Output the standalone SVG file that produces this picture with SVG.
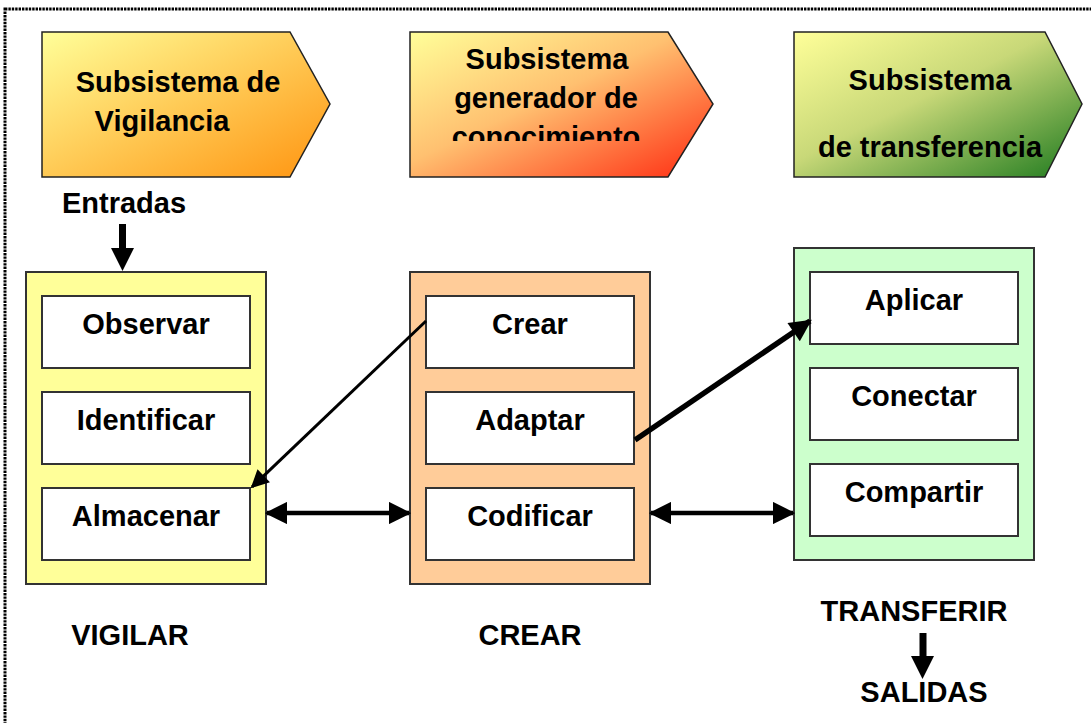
<svg xmlns="http://www.w3.org/2000/svg" width="1091" height="723" viewBox="0 0 1091 723">
  <style>
    text { font-family: "Liberation Sans", Arial, sans-serif; font-weight: bold; fill: #000; text-anchor: middle; }
    .t { font-size: 29px; }
    .col { stroke: #333; stroke-width: 2; }
    .box { fill: #fff; stroke: #333; stroke-width: 2; }
    .head { stroke: #222; stroke-width: 1.5; }
    .conn { stroke: #000; fill: none; }
  </style>
  <defs>
    <linearGradient id="gOrange" x1="0" y1="0" x2="1" y2="1">
      <stop offset="0" stop-color="#FFFF99"/>
      <stop offset="1" stop-color="#FF9410"/>
    </linearGradient>
    <linearGradient id="gRed" x1="0" y1="0" x2="1" y2="1">
      <stop offset="0" stop-color="#FFFF99"/>
      <stop offset="0.45" stop-color="#FFC070"/>
      <stop offset="1" stop-color="#FF2A10"/>
    </linearGradient>
    <linearGradient id="gGreen" x1="0" y1="0" x2="1" y2="1">
      <stop offset="0" stop-color="#FFFF99"/>
      <stop offset="0.45" stop-color="#C8D878"/>
      <stop offset="1" stop-color="#1E7A1E"/>
    </linearGradient>
    <marker id="ah" viewBox="0 0 10 10" refX="9" refY="5" markerWidth="5" markerHeight="5" orient="auto-start-reverse" markerUnits="strokeWidth">
      <path d="M0,0 L10,5 L0,10 Z" fill="#000"/>
    </marker>
    <marker id="ahThin" viewBox="0 0 10 10" refX="9" refY="5" markerWidth="7" markerHeight="6" orient="auto" markerUnits="strokeWidth">
      <path d="M0,0 L10,5 L0,10 Z" fill="#000"/>
    </marker>
    <marker id="ahMid" viewBox="0 0 10 10" refX="9" refY="5" markerWidth="4.5" markerHeight="4" orient="auto" markerUnits="strokeWidth">
      <path d="M0,0 L10,5 L0,10 Z" fill="#000"/>
    </marker>
    <clipPath id="clipGen">
      <rect x="410" y="32" width="300" height="109"/>
    </clipPath>
  </defs>

  <!-- dotted frame -->
  <rect x="5" y="9" width="1100" height="730" fill="none" stroke="#000" stroke-width="3" stroke-dasharray="2.4 1"/>

  <!-- header chevrons -->
  <g id="hdr-vigilancia">
    <polygon class="head" points="42,32 290,32 330,104 290,177 42,177" fill="url(#gOrange)"/>
    <text class="t" x="178" y="92">Subsistema de</text>
    <text class="t" x="162" y="131">Vigilancia</text>
  </g>
  <g id="hdr-generador">
    <polygon class="head" points="410,32 668,32 713,104 668,177 410,177" fill="url(#gRed)"/>
    <text class="t" x="547" y="69">Subsistema</text>
    <text class="t" x="546" y="108">generador de</text>
    <text class="t" x="546" y="147" clip-path="url(#clipGen)">conocimiento</text>
  </g>
  <g id="hdr-transferencia">
    <polygon class="head" points="794,32 1045,32 1082,104 1045,177 794,177" fill="url(#gGreen)"/>
    <text class="t" x="930" y="90">Subsistema</text>
    <text class="t" x="930" y="157">de transferencia</text>
  </g>

  <!-- column: VIGILAR -->
  <g id="col-vigilar">
    <rect class="col" x="26" y="272" width="240" height="312" fill="#FFFF99"/>
    <rect class="box" x="42" y="296" width="208" height="72"/>
    <rect class="box" x="42" y="392" width="208" height="72"/>
    <rect class="box" x="42" y="488" width="208" height="72"/>
    <text class="t" x="146" y="334">Observar</text>
    <text class="t" x="146" y="430">Identificar</text>
    <text class="t" x="146" y="526">Almacenar</text>
  </g>

  <!-- column: CREAR -->
  <g id="col-crear">
    <rect class="col" x="410" y="272" width="240" height="312" fill="#FFCC99"/>
    <rect class="box" x="426" y="296" width="208" height="72"/>
    <rect class="box" x="426" y="392" width="208" height="72"/>
    <rect class="box" x="426" y="488" width="208" height="72"/>
    <text class="t" x="530" y="334">Crear</text>
    <text class="t" x="530" y="430">Adaptar</text>
    <text class="t" x="530" y="526">Codificar</text>
  </g>

  <!-- column: TRANSFERIR -->
  <g id="col-transferir">
    <rect class="col" x="794" y="248" width="240" height="312" fill="#CCFFCC"/>
    <rect class="box" x="810" y="272" width="208" height="72"/>
    <rect class="box" x="810" y="368" width="208" height="72"/>
    <rect class="box" x="810" y="464" width="208" height="72"/>
    <text class="t" x="914" y="310">Aplicar</text>
    <text class="t" x="914" y="406">Conectar</text>
    <text class="t" x="914" y="502">Compartir</text>
  </g>

  <!-- labels -->
  <g id="lbl-entradas"><text class="t" x="124" y="213">Entradas</text></g>
  <g id="lbl-vigilar"><text class="t" x="130" y="645">VIGILAR</text></g>
  <g id="lbl-crear"><text class="t" x="530" y="645">CREAR</text></g>
  <g id="lbl-transferir"><text class="t" x="914" y="621">TRANSFERIR</text></g>
  <g id="lbl-salidas"><text class="t" x="924" y="702">SALIDAS</text></g>

  <!-- connectors -->
  <g id="connectors">
    <!-- block arrows: in / out -->
    <polygon points="119,224 126,224 126,248 134,248 122.5,271 111,248 119,248" fill="#000"/>
    <polygon points="919.5,633 926.5,633 926.5,656 934,656 922.5,679 911,656 919.5,656" fill="#000"/>
    <!-- Crear -> Almacenar -->
    <line class="conn" x1="426" y1="321" x2="252" y2="487" stroke-width="3" marker-end="url(#ahThin)"/>
    <!-- Adaptar -> Aplicar -->
    <line class="conn" x1="635" y1="440" x2="810" y2="321" stroke-width="5.5" marker-end="url(#ahMid)"/>
    <!-- Almacenar <-> Codificar -->
    <line class="conn" x1="267" y1="513" x2="409" y2="513" stroke-width="4.5" marker-start="url(#ah)" marker-end="url(#ah)"/>
    <!-- Codificar <-> Compartir -->
    <line class="conn" x1="651" y1="513" x2="793" y2="513" stroke-width="4.5" marker-start="url(#ah)" marker-end="url(#ah)"/>
  </g>
</svg>
